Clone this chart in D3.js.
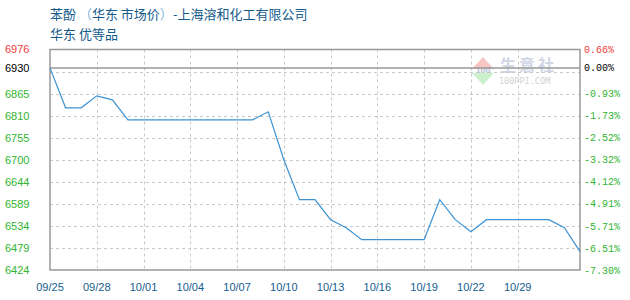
<!DOCTYPE html>
<html>
<head>
<meta charset="utf-8">
<script src="https://cdn.jsdelivr.net/npm/d3@7"></script>
<style>
  body { margin: 0; background: #fff; }
  svg { display: block; }
</style>
</head>
<body>
<svg id="chart" width="630" height="300"></svg>
<script>
// podaci (citano sa slike)
var basePrice = 6930;
var prices = [6930, 6830, 6830, 6860, 6850, 6800, 6800, 6800, 6800, 6800,
              6800, 6800, 6800, 6800, 6820, 6700, 6600, 6600, 6550, 6530,
              6500, 6500, 6500, 6500, 6500, 6600, 6550, 6520, 6550, 6550,
              6550, 6550, 6550, 6530, 6470];
var dateLabels = ["09/25", "09/28", "10/01", "10/04", "10/07", "10/10",
                  "10/13", "10/16", "10/19", "10/22", "10/29"];
var yTickValues = [6976, 6930, 6865.6, 6810.4, 6755.2, 6700, 6644.8, 6589.6, 6534.4, 6479.2, 6424];
var yTickLabels = ["6976", "6930", "6865", "6810", "6755", "6700", "6644", "6589", "6534", "6479", "6424"];
var pctLabels = ["0.66%", "0.00%", "-0.93%", "-1.73%", "-2.52%", "-3.32%", "-4.12%", "-4.91%", "-5.71%", "-6.51%", "-7.30%"];
var gridValues = [6920.8, 6865.6, 6810.4, 6755.2, 6700, 6644.8, 6589.6, 6534.4, 6479.2];

var svg = d3.select("#chart");
var plotLeft = 50, plotRight = 580, plotTop = 49.5, plotBottom = 270;

var x = d3.scaleLinear().domain([0, prices.length - 1]).range([plotLeft, plotRight]);
var y = d3.scaleLinear().domain([6424, 6976]).range([plotBottom, plotTop]);

//naslov
var title = svg.append("text")
    .attr("x", 50).attr("y", 18.5)
    .attr("font-family", "'Noto Sans CJK SC', sans-serif")
    .attr("font-size", 13)
    .attr("fill", "#125a8a");
title.append("tspan").text("苯酚 ");
title.append("tspan").attr("fill", "#7fb3da").text("（");
title.append("tspan").text("华东 市场价");
title.append("tspan").attr("fill", "#7fb3da").text("）");
title.append("tspan").text("-上海溶和化工有限公司");

svg.append("text")
    .attr("x", 50).attr("y", 38.5)
    .attr("font-family", "'Noto Sans CJK SC', sans-serif")
    .attr("font-size", 13)
    .attr("fill", "#125a8a")
    .text("华东 优等品");

// watermark
var wm = svg.append("g").attr("opacity", 0.45);
wm.append("path").attr("d", "M472,69 L483,57 L494,69 Z").attr("fill", "#f08080");
wm.append("path").attr("d", "M472,73 L483,85 L494,73 Z").attr("fill", "#90e090");
wm.append("text").attr("x", 483).attr("y", 73).attr("text-anchor", "middle")
    .attr("font-family", "'DejaVu Sans', sans-serif").attr("font-size", 7)
    .attr("font-weight", "bold").attr("fill", "#6070a0").text("100");
wm.append("text").attr("x", 500).attr("y", 71)
    .attr("font-family", "'Noto Sans CJK SC', sans-serif").attr("font-size", 16)
    .attr("font-weight", "bold").attr("fill", "#9aa6c8").attr("letter-spacing", 3).text("生意社");
wm.append("text").attr("x", 499).attr("y", 84)
    .attr("font-family", "'DejaVu Sans Mono', monospace").attr("font-size", 8.5)
    .attr("fill", "#999").text("100PPI.COM");

// grid
var grid = svg.append("g").attr("stroke", "#c8c8c8").attr("stroke-dasharray", "3,3").attr("stroke-width", 1);
grid.selectAll(".hg").data(gridValues).enter().append("line")
    .attr("x1", plotLeft).attr("x2", plotRight)
    .attr("y1", function(d) { return Math.round(y(d)) + 0.5; })
    .attr("y2", function(d) { return Math.round(y(d)) + 0.5; });
grid.selectAll(".vg").data(dateLabels.slice(1)).enter().append("line")
    .attr("x1", function(d, i) { return Math.round(x((i + 1) * 3)) + 0.5; })
    .attr("x2", function(d, i) { return Math.round(x((i + 1) * 3)) + 0.5; })
    .attr("y1", plotTop).attr("y2", plotBottom);

// okvir i bazna linija
svg.append("rect")
    .attr("x", plotLeft).attr("y", plotTop)
    .attr("width", plotRight - plotLeft).attr("height", plotBottom - plotTop)
    .attr("fill", "none").attr("stroke", "#999").attr("stroke-width", 1.5);
svg.append("line")
    .attr("x1", plotLeft).attr("x2", plotRight)
    .attr("y1", y(basePrice)).attr("y2", y(basePrice))
    .attr("stroke", "#999").attr("stroke-width", 1.5);

// linija cene
var line = d3.line()
    .x(function(d, i) { return x(i); })
    .y(function(d) { return y(d); });
svg.append("path")
    .datum(prices)
    .attr("d", line)
    .attr("fill", "none")
    .attr("stroke", "#3c92d2")
    .attr("stroke-width", 1.2);

function tickColour(i) {
    if (i === 0) return "#f03c3c";
    if (i === 1) return "#000";
    return "#2fb52f";
}

// leva osa
svg.selectAll(".yl").data(yTickValues).enter().append("text")
    .attr("x", 5)
    .attr("y", function(d) { return y(d); })
    .attr("dy", "0.36em")
    .attr("font-family", "'Liberation Sans', Arial, sans-serif")
    .attr("font-size", 11)
    .attr("fill", function(d, i) { return tickColour(i); })
    .text(function(d, i) { return yTickLabels[i]; });

// desna osa
svg.selectAll(".yr").data(yTickValues).enter().append("text")
    .attr("x", 584)
    .attr("y", function(d) { return y(d); })
    .attr("dy", "0.36em")
    .attr("font-family", "'Liberation Mono', 'DejaVu Sans Mono', monospace")
    .attr("font-size", 10)
    .attr("fill", function(d, i) { return tickColour(i); })
    .text(function(d, i) { return pctLabels[i]; });

// x osa
svg.selectAll(".xl").data(dateLabels).enter().append("text")
    .attr("x", function(d, i) { return x(i * 3); })
    .attr("y", 291)
    .attr("text-anchor", "middle")
    .attr("font-family", "'Liberation Sans', Arial, sans-serif")
    .attr("font-size", 11)
    .attr("fill", "#155d8e")
    .text(function(d) { return d; });
</script>
</body>
</html>
